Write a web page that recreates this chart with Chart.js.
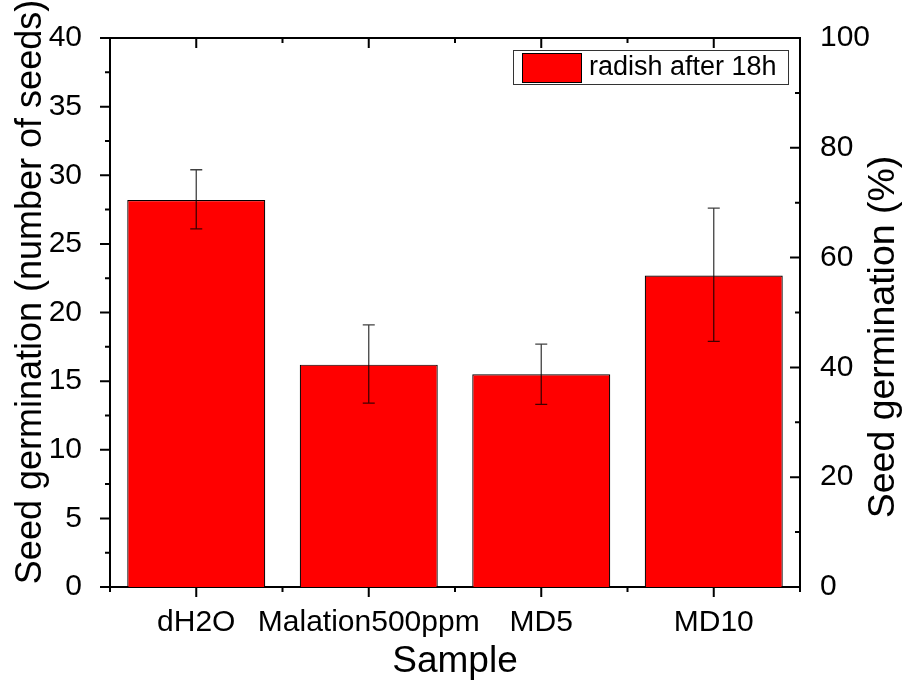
<!DOCTYPE html>
<html>
<head>
<meta charset="utf-8">
<script src="https://cdn.jsdelivr.net/npm/chart.js@4.4.1/dist/chart.umd.min.js"></script>
<style>
  html, body { margin: 0; padding: 0; background: #fff; }
  #wrap { width: 904px; height: 694px; }
</style>
</head>
<body>
<div id="wrap"><canvas id="germChart" width="904" height="694"></canvas></div>
<script>
const samples = ['dH2O', 'Malation500ppm', 'MD5', 'MD10'];
const seedCounts = [28.2, 16.2, 15.5, 22.7];
const errLow = [26.1, 13.4, 13.3, 17.9];
const errHigh = [30.4, 19.1, 17.7, 27.6];
const seriesLabel = 'radish after 18h';
const leftTitle = 'Seed germination (number of seeds)';
const rightTitle = 'Seed germination (%)';

const FONT = "'Liberation Sans', Arial, sans-serif";

// axis ticks (Origin style) + top frame line + error bars + legend box + y titles
const frameAndErrors = {
    id: 'frameAndErrors',
    afterDatasetsDraw(chart) {
        const ctx = chart.ctx;
        const area = chart.chartArea;
        const x = chart.scales.x;
        const y = chart.scales.y;
        const y2 = chart.scales.y2;

        ctx.save();
        // error bars
        ctx.strokeStyle = 'rgba(0,0,0,0.75)';
        ctx.lineWidth = 1.3;
        samples.forEach((s, i) => {
            const px = x.getPixelForValue(i);
            const top = y.getPixelForValue(errHigh[i]);
            const bot = y.getPixelForValue(errLow[i]);
            ctx.beginPath();
            ctx.moveTo(px, top); ctx.lineTo(px, bot);
            ctx.moveTo(px - 6, top); ctx.lineTo(px + 6, top);
            ctx.moveTo(px - 6, bot); ctx.lineTo(px + 6, bot);
            ctx.stroke();
        });

        ctx.strokeStyle = '#000';
        ctx.lineWidth = 2;
        ctx.beginPath();
        // top frame
        ctx.moveTo(area.left - 1, area.top);
        ctx.lineTo(area.right + 1, area.top);
        // left axis: outward ticks
        for (let v = 0; v <= 40; v += 2.5) {
            const py = y.getPixelForValue(v);
            const len = v % 5 === 0 ? 10 : 5;
            ctx.moveTo(area.left, py); ctx.lineTo(area.left - len, py);
        }
        // right axis: inward ticks
        for (let v = 0; v <= 100; v += 10) {
            const py = y2.getPixelForValue(v);
            const len = v % 20 === 0 ? 10 : 5;
            ctx.moveTo(area.right, py); ctx.lineTo(area.right - len, py);
        }
        // bottom outward / top inward ticks
        for (let i = 0; i <= samples.length; i++) {
            const edge = x.getPixelForValue(i - 0.5);
            ctx.moveTo(edge, area.bottom); ctx.lineTo(edge, area.bottom + 5);
            ctx.moveTo(edge, area.top); ctx.lineTo(edge, area.top + 5);
            if (i < samples.length) {
                const c = x.getPixelForValue(i);
                ctx.moveTo(c, area.bottom); ctx.lineTo(c, area.bottom + 10);
                ctx.moveTo(c, area.top); ctx.lineTo(c, area.top + 10);
            }
        }
        ctx.stroke();

        // legend
        const lx = area.right - 287, ly = area.top + 12, lw = 275, lh = 34;
        ctx.lineWidth = 1;
        ctx.strokeStyle = '#333';
        ctx.strokeRect(lx + 0.5, ly + 0.5, lw, lh);
        ctx.fillStyle = '#ff0000';
        ctx.fillRect(lx + 9, ly + 3, 59, 29);
        ctx.strokeStyle = '#000';
        ctx.strokeRect(lx + 9.5, ly + 3.5, 59, 29);
        ctx.fillStyle = '#000';
        ctx.font = '27px ' + FONT;
        ctx.textBaseline = 'middle';
        ctx.fillText(seriesLabel, lx + 76, ly + lh / 2 + 1);

        // y titles, both reading bottom-to-top
        ctx.textAlign = 'center';
        ctx.font = '36px ' + FONT;
        ctx.save();
        ctx.translate(31, 292);
        ctx.rotate(-Math.PI / 2);
        ctx.fillText(leftTitle, 0, 0);
        ctx.restore();
        ctx.font = '37.5px ' + FONT;
        ctx.save();
        ctx.translate(884, 337);
        ctx.rotate(-Math.PI / 2);
        ctx.fillText(rightTitle, 0, 0);
        ctx.restore();
        ctx.restore();
    }
};

new Chart(document.getElementById('germChart'), {
    type: 'bar',
    data: {
        labels: samples,
        datasets: [{
            label: seriesLabel,
            data: seedCounts,
            backgroundColor: '#ff0000',
            borderColor: '#000',
            borderWidth: 1.2,
            categoryPercentage: 1,
            barPercentage: 0.8
        }]
    },
    options: {
        responsive: false,
        animation: false,
        layout: { padding: { top: 32, left: 0, right: 0, bottom: 0 } },
        plugins: {
            legend: { display: false },
            tooltip: { enabled: false }
        },
        scales: {
            x: {
                grid: { display: false },
                border: { display: true, color: '#000', width: 2 },
                ticks: { color: '#000', font: { family: FONT, size: 30 }, padding: 10, maxRotation: 0, autoSkip: false },
                title: { display: true, text: 'Sample', color: '#000', font: { family: FONT, size: 37 }, padding: { top: 10, bottom: 10 } },
                afterFit(scale) { scale.height = 107; }
            },
            y: {
                position: 'left',
                min: 0, max: 40,
                grid: { display: false },
                border: { display: true, color: '#000', width: 2 },
                ticks: { stepSize: 5, color: '#000', font: { family: FONT, size: 30 }, padding: 20 },
                afterFit(scale) { scale.width = 110; }
            },
            y2: {
                position: 'right',
                min: 0, max: 100,
                grid: { display: false },
                border: { display: true, color: '#000', width: 2 },
                ticks: { stepSize: 20, color: '#000', font: { family: FONT, size: 30 }, padding: 12 },
                afterFit(scale) { scale.width = 104; }
            }
        }
    },
    plugins: [frameAndErrors]
});
</script>
</body>
</html>
